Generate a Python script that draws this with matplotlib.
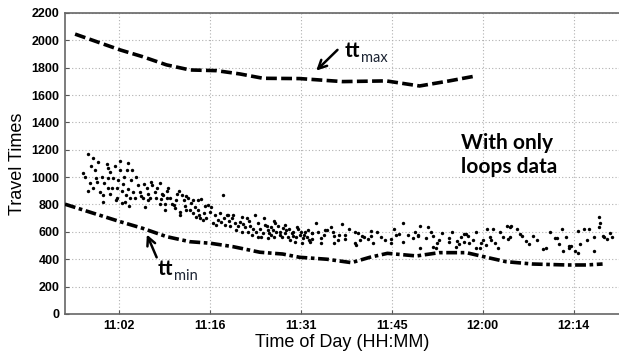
import matplotlib.pyplot as plt
import numpy as np

# tt_max curve (minutes since midnight, travel time)
tmax_t = [655.4, 662.5, 666.1, 669.9, 673.6, 677.8, 681.5, 685.2, 691.0, 697.8, 704.7, 710.0, 714.7, 719.0]
tmax_v = [2045, 1930, 1880, 1820, 1783, 1778, 1754, 1722, 1720, 1698, 1703, 1666, 1703, 1740]

# tt_min curve
tmin_t = [653.8, 658.3, 662.5, 666.1, 669.9, 673.6, 676.8, 680.4, 684.7, 688.3, 691.0, 695.3, 699.2,
          702.1, 704.9, 709.5, 713.1, 717.4, 720.6, 723.7, 727.9, 733.3, 736.4, 739.0]
tmin_v = [802, 736, 675, 626, 565, 528, 517, 492, 451, 438, 414, 400, 375,
          414, 443, 424, 448, 448, 414, 382, 365, 358, 358, 365]

# loop-detector travel times (scatter)
pts_t = [657.4, 658.3, 659.0, 660.4, 660.6, 656.7, 662.5, 663.8, 663.6, 664.4, 662.5, 660.6, 661.4,
         658.7, 658.8, 658.2, 660.6, 661.2, 662.0, 663.0, 663.8, 665.4, 666.8, 667.6, 659.8, 662.0,
         663.3, 664.1, 664.9, 666.1, 667.3, 662.8, 666.5, 665.7, 664.6,
         667.5, 668.8, 668.1, 668.3, 669.4, 669.9, 669.6, 670.2, 671.8, 672.3, 672.6, 671.0, 671.2,
         672.0, 673.3, 674.1, 675.4, 673.6, 674.1, 674.6, 675.2, 675.7, 676.5, 677.0, 676.8, 677.3,
         677.8, 678.6, 678.9, 679.6, 672.0,
         679.4, 680.2, 680.7, 681.5, 681.8, 682.6, 683.9, 682.3, 682.8, 683.4, 684.4, 685.5, 686.0,
         686.5, 687.1, 687.3, 687.8, 688.4, 688.9, 689.1, 689.7, 690.5, 691.0, 691.5, 692.1, 692.6,
         692.9, 684.4, 685.2, 686.0, 690.2, 691.8, 686.5, 688.6,
         693.6, 692.9, 692.9, 693.9, 695.0, 695.3, 696.0, 694.4, 694.4, 696.5, 696.5, 697.3, 697.7,
         698.1, 698.1, 699.7, 699.7, 699.9, 700.5, 700.8, 702.3, 702.3, 701.8, 702.6, 703.9, 705.5,
         705.5, 706.3, 706.8, 707.3, 707.3, 708.9, 709.7,
         710.1, 711.3, 709.8, 711.0, 712.2, 713.1, 712.8, 712.1, 712.6, 710.0, 714.7, 714.7, 715.9,
         715.8, 716.6, 717.0, 717.1, 717.4, 717.6, 717.9, 718.4, 719.0, 719.5, 720.0, 720.7, 721.6,
         721.1, 721.3, 721.9, 720.5, 722.4, 723.9, 724.4, 724.0,
         724.5, 724.4, 725.9, 726.2, 726.9, 727.3, 727.9, 729.5, 730.0, 731.5, 731.7, 732.1, 732.7,
         732.6, 733.7, 733.7, 734.0, 734.7, 735.1, 735.4, 735.1, 736.1, 736.9, 737.6, 737.7, 738.4,
         738.6, 738.4, 739.0, 739.3, 739.7,
         657.0, 657.8, 658.5, 659.3, 659.6, 660.0, 660.9, 661.0, 661.7, 662.2, 662.9, 663.2, 663.5,
         664.2, 665.0, 665.8, 666.3, 666.9, 667.0, 657.5, 658.0, 659.9, 661.9, 663.9,
         668.4, 668.9, 669.2, 669.7, 670.5, 670.8, 671.4, 671.5, 672.8, 673.0, 673.8, 674.4, 674.9,
         675.0, 675.9, 676.2, 676.0, 677.5, 678.1, 678.4, 679.0, 679.2, 679.8, 680.0, 669.0, 670.0,
         672.9, 674.8,
         680.5, 680.9, 681.2, 681.9, 682.0, 682.9, 683.1, 683.6, 684.0, 684.7, 684.9, 685.3, 685.8,
         686.2, 686.8, 687.0, 687.5, 687.9, 688.2, 688.7, 689.3, 689.5, 690.0, 690.8, 691.2, 691.7,
         692.3, 692.4, 690.4, 689.9, 691.3, 686.9,
         694.8, 696.2, 697.0, 698.8, 700.2, 701.2, 703.2, 704.5, 705.9, 708.2, 709.2, 711.8, 713.6,
         715.2, 716.2, 718.9, 719.8, 722.8, 723.2, 725.4, 728.6, 730.6, 733.2, 736.5, 740.1, 740.5]
pts_v = [1167, 1138, 1113, 1094, 1067, 1030, 1118, 1103, 1052, 1052, 1052, 994, 994,
         994, 967, 923, 921, 923, 923, 950, 914, 943, 921, 943, 870, 850,
         821, 848, 848, 850, 848, 809, 784, 894, 894,
         967, 955, 894, 850, 870, 846, 802, 919, 899, 870, 833, 797, 773,
         724, 846, 833, 840, 760, 736, 711, 700, 687, 797, 784, 748, 663,
         651, 675, 870, 724, 748,
         724, 700, 663, 675, 711, 700, 724, 638, 602, 577, 663, 651, 614,
         638, 663, 602, 577, 626, 614, 565, 590, 638, 577, 553, 565, 528,
         590, 565, 590, 553, 528, 602, 577, 590,
         663, 590, 546, 602, 614, 614, 638, 553, 521, 570, 517, 577, 656,
         546, 577, 597, 521, 504, 541, 570, 607, 570, 546, 521, 565, 546,
         521, 577, 585, 667, 528, 553, 570,
         643, 638, 577, 553, 570, 541, 521, 492, 480, 480, 553, 528, 536,
         492, 560, 528, 585, 585, 570, 517, 541, 480, 480, 541, 619, 619,
         565, 541, 517, 504, 480, 643, 638, 546,
         643, 560, 585, 570, 536, 511, 572, 475, 485, 553, 553, 511, 463,
         619, 497, 480, 497, 463, 448, 511, 609, 619, 619, 560, 463, 711,
         667, 634, 570, 565, 546,
         1000, 960, 1050, 890, 1000, 960, 1040, 880, 1080, 980, 900, 1000, 870,
         980, 1000, 860, 950, 880, 830, 900, 1080, 820, 830, 790,
         920, 800, 880, 760, 850, 800, 830, 880, 790, 760, 810, 780, 760,
         720, 740, 700, 790, 720, 690, 740, 700, 650, 680, 640, 840, 900,
         860, 830,
         720, 610, 640, 600, 660, 680, 640, 620, 600, 620, 560, 700, 640,
         590, 610, 560, 640, 600, 560, 650, 620, 540, 600, 620, 600, 580,
         610, 540, 560, 570, 520, 680,
         580, 600, 540, 620, 590, 560, 600, 540, 620, 580, 600, 600, 590,
         600, 510, 600, 520, 600, 560, 620, 540, 600, 560, 540, 590, 560]

tick_pos = [662.4, 676.8, 691.2, 705.6, 720.0, 734.4]
tick_lab = ["11:02", "11:16", "11:31", "11:45", "12:00", "12:14"]

fig = plt.figure(figsize=(6.19, 3.58), dpi=100)
ax = fig.add_axes([0.105, 0.123, 0.895, 0.841])

ax.scatter(pts_t, pts_v, s=6, color="black", linewidths=0, zorder=3)
ax.plot(tmax_t, tmax_v, color="black", lw=2.6, linestyle=(0, (3, 1.2)), zorder=4)
ax.plot(tmin_t, tmin_v, color="black", lw=2.6, linestyle=(0, (3, 1, 1, 1)), zorder=4)

ax.set_xlim(653.8, 741.6)
ax.set_ylim(0, 2200)
ax.set_xticks(tick_pos)
ax.set_xticklabels(tick_lab)
ax.set_yticks(np.arange(0, 2201, 200))
for lab in ax.get_xticklabels() + ax.get_yticklabels():
    lab.set_fontfamily("Liberation Sans")
    lab.set_fontweight("bold")
    lab.set_fontsize(9)
ax.tick_params(direction="in", length=3, color="#555555", pad=4)
ax.grid(True, linestyle=(0, (1, 2)), color="#b0b0b0", lw=0.8)
for s in ax.spines.values():
    s.set_color("#666666")
    s.set_linewidth(1.2)
ax.spines["right"].set_visible(False)

ax.set_xlabel("Time of Day (HH:MM)", fontsize=13, family="Liberation Sans", labelpad=2)
ax.set_ylabel("Travel Times", fontsize=13, family="Liberation Sans", labelpad=4)

# annotations
arrow = dict(arrowstyle="->,head_length=0.6,head_width=0.3", color="black", lw=1.8)
ax.annotate("", xy=(693.3, 1764), xytext=(697.3, 1944), arrowprops=arrow)
tt1 = ax.text(698.1, 1878, "tt", fontsize=15, fontweight="bold", family="Lato",
              ha="left", va="baseline")
ax.annotate("max", xy=(1, 0), xycoords=tt1, xytext=(0.5, -3), textcoords="offset points",
            fontsize=10.5, family="Lato", color="#1c2433", ha="left", va="bottom")

ax.annotate("", xy=(666.6, 599), xytext=(668.5, 395), arrowprops=arrow)
tt2 = ax.text(668.5, 285, "tt", fontsize=15, fontweight="bold", family="Lato",
              ha="left", va="baseline")
ax.annotate("min", xy=(1, 0), xycoords=tt2, xytext=(0.5, -3), textcoords="offset points",
            fontsize=10.5, family="Lato", color="#1c2433", ha="left", va="bottom")

ax.text(716.6, 1162, "With only\nloops data", fontsize=15, fontweight="bold", family="Lato",
        ha="left", va="center", linespacing=1.25)

fig.savefig("out.png", dpi=100)
